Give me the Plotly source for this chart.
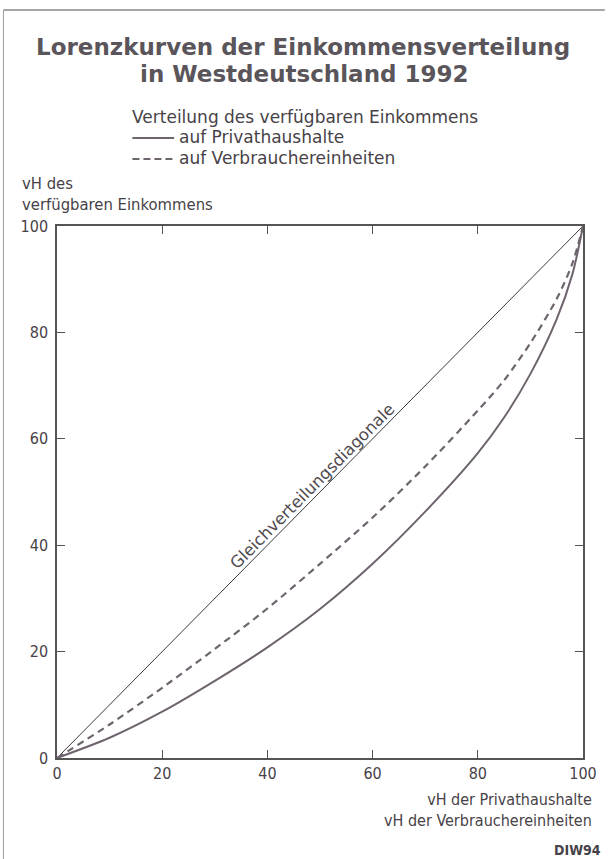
import plotly.graph_objects as go

# ---- data ----
anteil = [0, 10, 20, 30, 40, 50, 60, 70, 80, 85, 90, 95, 98, 100]
privathaushalte = [0, 3.8, 8.7, 14.5, 20.8, 28.0, 36.5, 46.3, 57.3, 64.0, 72.2, 82.5, 91.0, 100]
verbrauchereinheiten = [0, 6.3, 13.2, 20.5, 28.1, 36.5, 45.2, 54.8, 65.3, 71.0, 78.0, 86.3, 93.0, 100]
diagonale = [0, 100]
tickvals = [0, 20, 40, 60, 80, 100]

W, H = 609, 859
L, R, T, B = 57, 22, 226, 101
pw, ph = W - L - R, H - T - B

def px(x):
    return (x - L) / pw

def py(y):
    return (H - B - y) / ph

COND = "DejaVu Sans Condensed, Liberation Sans Narrow, DejaVu Sans"
SANS = "DejaVu Sans"
TXT = "#474247"
LINE = "#6e646e"

fig = go.Figure()
fig.add_trace(go.Scatter(x=diagonale, y=diagonale, mode="lines",
                         line=dict(color="#3a3a3a", width=1), showlegend=False,
                         hoverinfo="skip"))
fig.add_trace(go.Scatter(x=anteil, y=privathaushalte, mode="lines",
                         name="auf Privathaushalte", showlegend=False,
                         line=dict(color=LINE, width=2, shape="spline", smoothing=0.8)))
fig.add_trace(go.Scatter(x=anteil, y=verbrauchereinheiten, mode="lines",
                         name="auf Verbrauchereinheiten", showlegend=False,
                         line=dict(color=LINE, width=2.2, shape="spline", smoothing=0.8,
                                   dash="7px,5px")))

axis_common = dict(range=[0, 100], tickvals=tickvals, ticks="inside", ticklen=8,
                   tickwidth=1.2, tickcolor="#555", showline=True, linecolor="#555",
                   linewidth=1.5, mirror="ticks", showgrid=False, zeroline=False,
                   tickfont=dict(family=COND, size=16, color=TXT))

fig.update_xaxes(**axis_common)
fig.update_yaxes(ticklabelstandoff=4, **axis_common)

ann = [
    dict(text="<b>Lorenzkurven der Einkommensverteilung</b>", xref="paper", yref="paper",
         x=px(305), y=py(47), xanchor="center", yanchor="middle", showarrow=False,
         font=dict(family=SANS, size=23, color="#5a555a")),
    dict(text="<b>in Westdeutschland 1992</b>", xref="paper", yref="paper",
         x=px(306), y=py(74), xanchor="center", yanchor="middle", showarrow=False,
         font=dict(family=SANS, size=23, color="#5a555a")),
    dict(text="Verteilung des verfügbaren Einkommens", xref="paper", yref="paper",
         x=px(131), y=py(117), xanchor="left", yanchor="middle", showarrow=False,
         font=dict(family=SANS, size=17, color=TXT)),
    dict(text="auf Privathaushalte", xref="paper", yref="paper",
         x=px(178), y=py(137), xanchor="left", yanchor="middle", showarrow=False,
         font=dict(family=SANS, size=17, color=TXT)),
    dict(text="auf Verbrauchereinheiten", xref="paper", yref="paper",
         x=px(178), y=py(158), xanchor="left", yanchor="middle", showarrow=False,
         font=dict(family=SANS, size=17, color=TXT)),
    dict(text="vH des<br>verfügbaren Einkommens", xref="paper", yref="paper",
         x=px(20), y=py(216), xanchor="left", yanchor="bottom", align="left",
         showarrow=False, font=dict(family=COND, size=16.5, color=TXT)),
    dict(text="vH der Privathaushalte<br>vH der Verbrauchereinheiten", xref="paper",
         yref="paper", x=px(598), y=py(788), xanchor="right", yanchor="top",
         align="right", showarrow=False, font=dict(family=COND, size=16, color=TXT)),
    dict(text="<b>DIW94</b>", xref="paper", yref="paper", x=px(607), y=py(850),
         xanchor="right", yanchor="middle", showarrow=False,
         font=dict(family=COND, size=14, color=TXT)),
    dict(text="Gleichverteilungsdiagonale", x=48.5, y=51.0, xref="x", yref="y",
         showarrow=False, textangle=-45.2,
         font=dict(family=SANS, size=16.5, color="#504a50")),
]

shapes = [
    # page frame
    dict(type="line", xref="paper", yref="paper", x0=px(3), x1=px(609),
         y0=py(10), y1=py(10), line=dict(color="#8a8a8a", width=1.5)),
    dict(type="line", xref="paper", yref="paper", x0=px(3), x1=px(3),
         y0=py(10), y1=py(859), line=dict(color="#9a9a9a", width=1)),
    # legend keys
    dict(type="line", xref="paper", yref="paper", x0=px(133), x1=px(175),
         y0=py(138), y1=py(138), line=dict(color=LINE, width=2)),
    dict(type="line", xref="paper", yref="paper", x0=px(133), x1=px(175),
         y0=py(159), y1=py(159), line=dict(color=LINE, width=2, dash="7px,4px")),
]

fig.update_layout(
    width=W, height=H,
    margin=dict(l=L, r=R, t=T, b=B),
    paper_bgcolor="white", plot_bgcolor="white",
    showlegend=False,
    annotations=ann,
    shapes=shapes,
)

fig.write_html("out.html", config={"displayModeBar": False},
               post_script="document.body.style.margin='0';document.body.style.overflow='hidden';")
